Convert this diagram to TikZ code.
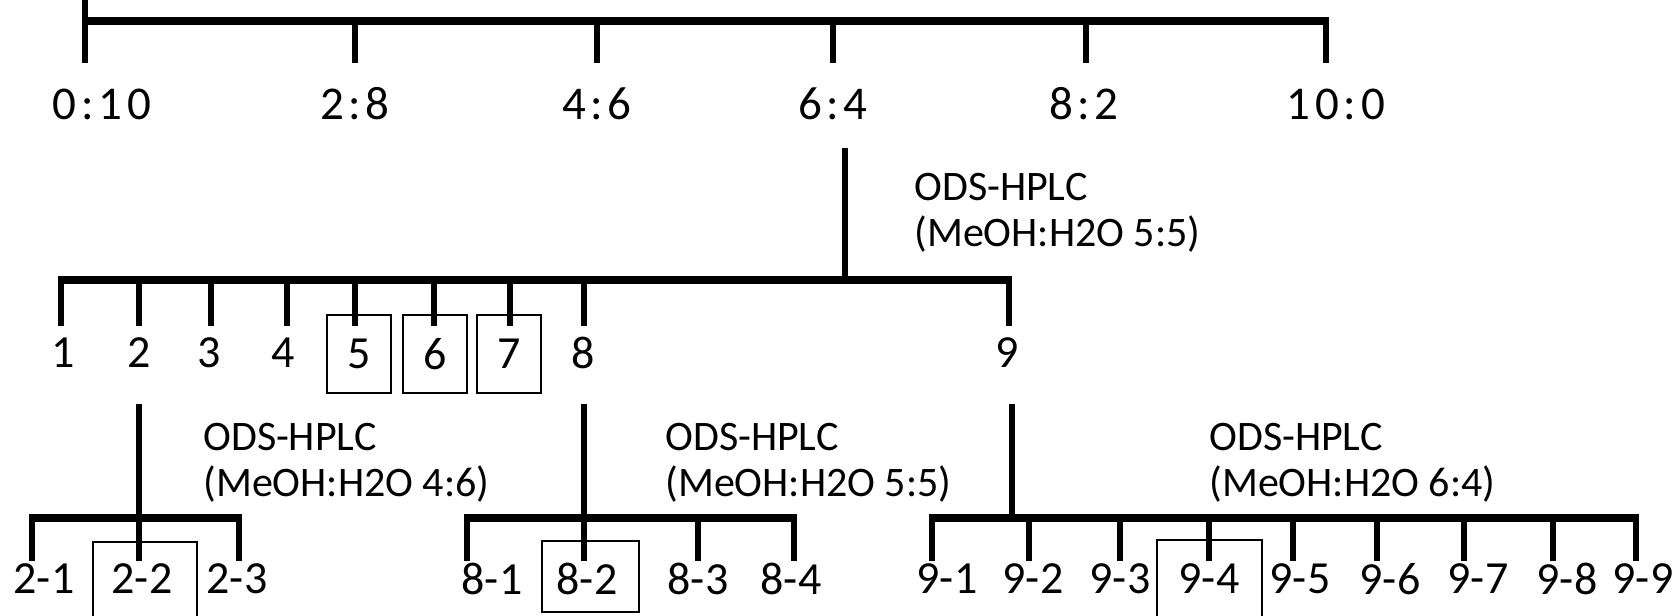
\documentclass[tikz,border=0pt]{standalone}
\usepackage{fontspec}
\setmainfont{Carlito}
\begin{document}
\begin{tikzpicture}[x=0.5pt,y=-0.5pt]
        % Styles
        \tikzstyle{bar}=[line width=3.6pt]
        \tikzstyle{tick}=[line width=3pt]
        \tikzstyle{stem}=[line width=2.8pt]
        \tikzstyle{box}=[draw,line width=0.75pt]
        \tikzstyle{ratio}=[inner sep=0pt,font=\fontsize{23.5}{28}\selectfont\addfontfeature{LetterSpace=10}]
        \tikzstyle{fraction}=[inner sep=0pt,font=\fontsize{23}{28}\selectfont]
        \tikzstyle{method}=[inner sep=0pt,anchor=north west,align=left,font=\fontsize{21}{23}\selectfont]
        \useasboundingbox (0,0) rectangle (1677,616);
        %The graphic
        %solvent ratios
        \foreach \name/\x/\lx/\txt in {r0/85/102/0:10,r2/355/355/2:8,r4/597/597/4:6,r6/833/833/6:4,r8/1086/1084/8:2,r10/1326/1336/10:0}
        {
            \coordinate (top\name) at (\x,21);
            \coordinate (end\name) at (\x,63);
            \node[ratio] (\name) at (\lx,104) {\txt};
            \draw[tick] (top\name) -- (end\name);
        }
        \draw[tick] (85,0) -- (topr0);
        \draw[bar] ([xshift=-1.5pt]topr0) -- ([xshift=1.5pt]topr10);
        %fractions of 6:4
        \coordinate (s6) at (845,148);
        \coordinate (b6) at (845,280);
        \draw[stem] (s6) -- (b6);
        \node[method] (m6) at (914,173) {ODS-HPLC\\(MeOH:H2O 5:5)};
        \foreach \n/\x in {1/63,2/139,3/209,4/283,8/583,9/1007}
            \node[fraction] (f\n) at (\x,353) {\n};
        \foreach \n/\x in {5/359,6/435,7/509}
            \node[fraction,box,minimum width=32pt,minimum height=39pt] (f\n) at (\x,354) {\n};
        \foreach \n/\x in {1/61,2/139,3/211,4/287,5/355,6/434,7/510,8/584,9/1009}
            \draw[tick] (\x,280) coordinate (t\n) -- (\x,326);
        \draw[bar] ([xshift=-1.5pt]t1) -- ([xshift=1.5pt]t9);
        %fraction 2
        \coordinate (s2) at (139,404);
        \coordinate (b2) at (139,518);
        \draw[stem] (s2) -- (b2);
        \node[method] (m2) at (203,423) {ODS-HPLC\\(MeOH:H2O 4:6)};
        %fraction 8
        \coordinate (s8) at (584,404);
        \coordinate (b8) at (584,518);
        \draw[stem] (s8) -- (b8);
        \node[method] (m8) at (665,423) {ODS-HPLC\\(MeOH:H2O 5:5)};
        %fraction 9
        \coordinate (s9) at (1012,404);
        \coordinate (b9) at (1012,518);
        \draw[stem] (s9) -- (b9);
        \node[method] (m9) at (1209,423) {ODS-HPLC\\(MeOH:H2O 6:4)};
        %subfractions
        \foreach \n/\x/\lx/\txt in {21/32/44/2-1,22/139/142/2-2,23/239/237/2-3,
                                    81/467/492/8-1,82/584/587/8-2,83/698/698/8-3,84/794/791/8-4,
                                    91/932/947/9-1,92/1029/1033/9-2,93/1120/1120/9-3,94/1209/1209/9-4,95/1293/1300/9-5,
                                    96/1377/1390/9-6,97/1464/1478/9-7,98/1553/1567/9-8,99/1636/1643/9-9}
        {
            \draw[tick] (\x,518) coordinate (t\n) -- (\x,561);
            \node[fraction] (f\n) at (\lx,579) {\txt};
        }
        \draw[bar] ([xshift=-1.5pt]t21) -- ([xshift=1.5pt]t23);
        \draw[bar] ([xshift=-1.5pt]t81) -- ([xshift=1.5pt]t84);
        \draw[bar] ([xshift=-1.5pt]t91) -- ([xshift=1.5pt]t99);
        %boxes
        \draw[box] (93,640) |- (197,542) -- (197,640);
        \draw[box] (542,541) rectangle (639,612);
        \draw[box] (1157,640) |- (1262,540) -- (1262,640);
    \end{tikzpicture}
\end{document}
